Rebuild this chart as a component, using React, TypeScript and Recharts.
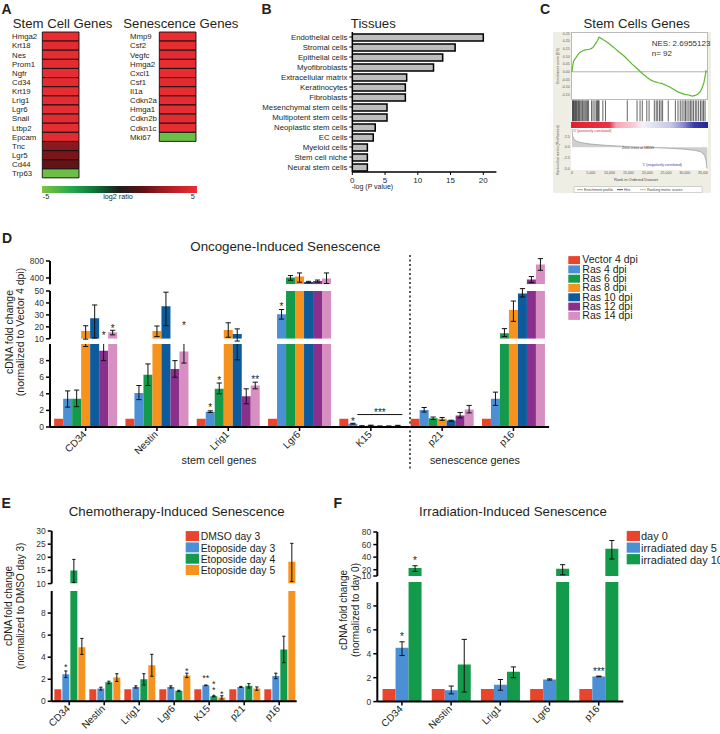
import React from 'react';
import {
  BarChart, Bar, XAxis, YAxis, ErrorBar, LabelList, Cell,
  LineChart, Line, ReferenceLine, AreaChart, Area, ScatterChart, Scatter,
} from 'recharts';

const FONT = '"Liberation Sans", Arial, Helvetica, sans-serif';
const INK = '#231f20';

// ---------------- Panel A : heat maps ----------------
const stemGenes = ['Hmga2', 'Krt18', 'Nes', 'Prom1', 'Ngfr', 'Cd34', 'Krt19', 'Lrig1', 'Lgr6', 'Snail', 'Ltbp2', 'Epcam', 'Tnc', 'Lgr5', 'Cd44', 'Trp63'];
const stemLog2 = [4.8, 4.7, 4.8, 4.7, 4.8, 4.7, 4.8, 4.7, 4.8, 4.7, 4.8, 4.7, 2.4, 2.1, 1.6, -4.6];
const senGenes = ['Mmp9', 'Csf2', 'Vegfc', 'Hmga2', 'Cxcl1', 'Csf1', 'Il1a', 'Cdkn2a', 'Hmga1', 'Cdkn2b', 'Cdkn1c', 'Mki67'];
const senLog2 = [4.8, 4.8, 4.7, 4.8, 4.8, 4.7, 4.8, 4.7, 4.8, 4.7, 4.8, -4.6];
const log2Stops: [number, string][] = [[-5, '#80c342'], [-3, '#1ea84c'], [-1.5, '#0e6e36'], [0, '#1d1d1b'], [1.5, '#5e1114'], [3, '#a81c22'], [5, '#ee2e34']];

// ---------------- Panel B : tissues ----------------
const tissueNames = ['Endothelial cells', 'Stromal cells', 'Epithelial cells', 'Myofibroblasts', 'Extracellular matrix', 'Keratinocytes', 'Fibroblasts', 'Mesenchymal stem cells', 'Multipotent stem cells', 'Neoplastic stem cells', 'EC cells', 'Myeloid cells', 'Stem cell niche', 'Neural stem cells'];
const tissueScores = [20, 15.7, 13.8, 12.4, 8.3, 8.1, 8.1, 5.3, 5.3, 3.5, 3.2, 2.3, 2.3, 2.3];
const tissueTicks = [0, 5, 10, 15, 20];

// ---------------- Panel C : GSEA ----------------
const esRank = [0, 150, 400, 800, 1100, 1500, 2000, 2600, 3300, 4000, 4600, 5100, 5600, 6000, 6400, 6800, 7200, 7600, 8200, 9000, 9800, 10700, 11500, 12400, 13300, 14200, 15000, 16000, 17000, 18000, 19000, 20000, 21000, 22000, 23000, 24000, 25000, 26000, 27000, 28000, 29000, 30000, 31000, 32000, 32800, 33500, 34200, 34700, 35100, 35400, 35650, 35800];
const esScore = [0, 0.03, 0.07, 0.085, 0.095, 0.11, 0.125, 0.135, 0.142, 0.145, 0.148, 0.152, 0.16, 0.175, 0.19, 0.205, 0.228, 0.222, 0.212, 0.2, 0.185, 0.168, 0.152, 0.132, 0.115, 0.095, 0.075, 0.05, 0.028, 0.005, -0.018, -0.038, -0.055, -0.065, -0.072, -0.078, -0.088, -0.1, -0.115, -0.13, -0.14, -0.148, -0.152, -0.16, -0.155, -0.145, -0.128, -0.1, -0.07, -0.03, 0.005, 0.0];
const esTicks = [-0.15, -0.1, -0.05, 0, 0.05, 0.1, 0.15, 0.2, 0.25];
const hitRanks = [100, 250, 400, 600, 800, 950, 1200, 1400, 1700, 1900, 2100, 2400, 2700, 2900, 3200, 3500, 3800, 4100, 4400, 5200, 5600, 6100, 6500, 6800, 7000, 7200, 8200, 8900, 14700, 17300, 18100, 18700, 19900, 20500, 21900, 22400, 22800, 23300, 23700, 24100, 25600, 27500, 28200, 28800, 29300, 29800, 30200, 30600, 31100, 31500, 31900, 32300, 32800, 33200, 33700, 34200, 34600, 35000, 35400];
const rmRank = [0, 150, 500, 1000, 2000, 3500, 5000, 8000, 12000, 16000, 18559, 22000, 26000, 30000, 33000, 34500, 35300, 35700, 35900, 36000];
const rmScore = [4.3, 2.6, 1.9, 1.5, 1.15, 0.9, 0.72, 0.5, 0.28, 0.1, 0, -0.12, -0.28, -0.5, -0.8, -1.2, -2.0, -3.3, -5.0, -5.0];
const rmTicks = [-5, -2.5, 0, 2.5];
const rankTicks = [0, 5000, 10000, 15000, 20000, 25000, 30000, 35000];

// ---------------- Panel D : oncogene-induced ----------------
const dCats = ['CD34', 'Nestin', 'Lrig1', 'Lgr6', 'K15', 'p21', 'p16'];
const dNames = ['Vector 4 dpi', 'Ras 4 dpi', 'Ras 6 dpi', 'Ras 8 dpi', 'Ras 10 dpi', 'Ras 12 dpi', 'Ras 14 dpi'];
const dColors = ['#e8452c', '#4b8fd5', '#139a4a', '#f6921e', '#0d5a9c', '#8b2f8c', '#d78ec0'];
const dVector = [1, 1, 1, 1, 1, 1, 1];
const dVectorErr = [null, null, null, null, null, null, null];
const dRas4 = [3.4, 4.1, 1.85, 30.6, 0.4, 2.05, 3.4];
const dRas4Err = [[2.4, 4.35], [3.3, 5.0], [1.75, 1.95], [26.5, 34.5], [0.35, 0.45], [1.8, 2.35], [2.6, 4.2]];
const dRas6 = [3.4, 6.3, 4.6, 409, 0.12, 1.05, 14.7];
const dRas6Err = [[2.45, 4.45], [5.0, 7.6], [4.0, 5.3], [346, 456], [0.1, 0.15], [0.9, 1.2], [11.9, 18.5]];
const dRas8 = [16.6, 16.6, 17.4, 433, 0.18, 1.0, 34];
const dRas8Err = [[9.7, 20.9], [11.9, 20.7], [11.3, 23.4], [300, 518], [0.15, 0.22], [0.8, 1.15], [24.6, 41.6]];
const dRas10 = [27.1, 37.3, 14.1, 306, 0.1, 0.77, 48];
const dRas10Err = [[10.6, 38.3], [21, 49], [8.1, 18.3], [290, 320], [0.08, 0.12], [0.7, 0.82], [45, 52]];
const dRas12 = [9.2, 7.0, 3.7, 329, 0.1, 1.4, 362];
const dRas12Err = [[8.0, 10.4], [6.0, 8.0], [2.8, 4.6], [300, 350], [0.08, 0.12], [1.1, 1.75], [292, 433]];
const dRas14 = [15.5, 9.1, 5.0, 386, 0.15, 2.1, 715];
const dRas14Err = [[13.3, 17.1], [7.7, 10.6], [4.6, 5.4], [268, 518], [0.12, 0.2], [1.7, 2.6], [580, 856]];
const dStars = [
  { cat: 0, s: 5, ref: 6, text: '*', pos: 14.4 },
  { cat: 0, s: 6, text: '*', pos: 20.7 },
  { cat: 1, s: 6, ref: 4, text: '*', pos: 23.2 },
  { cat: 2, s: 1, text: '*', pos: 2.6 },
  { cat: 2, s: 2, text: '*', pos: 5.85 },
  { cat: 2, s: 6, text: '**', pos: 6.0 },
  { cat: 3, s: 1, text: '*', pos: 38.9 },
  { cat: 4, s: 1, text: '*', pos: 0.93 },
  { cat: 4, s: 4, ref: 1, text: '***', pos: 2.0 },
  { cat: 4, s: 2, ref: 1, text: '', pos: 1.5, line: 5 },
];

// ---------------- Panel E : chemotherapy ----------------
const eCats = ['CD34', 'Nestin', 'Lrig1', 'Lgr6', 'K15', 'p21', 'p16'];
const eNames = ['DMSO day 3', 'Etoposide day 3', 'Etoposide day 4', 'Etoposide day 5'];
const eColors = ['#e8452c', '#4b8fd5', '#139a4a', '#f6921e'];
const eDmso = [1.1, 1.1, 1.1, 1.1, 1.1, 1.1, 1.1];
const eDmsoErr = [null, null, null, null, null, null, null];
const eEto3 = [2.45, 1.15, 1.3, 1.3, 1.45, 1.3, 2.3];
const eEto3Err = [[2.15, 2.75], [1.02, 1.28], [1.2, 1.4], [1.2, 1.4], [1.42, 1.48], [1.25, 1.35], [2.05, 2.55]];
const eEto4 = [15, 1.72, 2.0, 0.95, 0.45, 1.4, 4.7];
const eEto4Err = [[10.4, 19.2], [1.6, 1.82], [1.48, 2.5], [0.9, 1.0], [0.42, 0.48], [1.2, 1.6], [3.5, 5.9]];
const eEto5 = [4.9, 2.15, 3.26, 2.35, 0.35, 1.15, 18.3];
const eEto5Err = [[4.25, 5.7], [1.8, 2.5], [2.27, 4.26], [2.15, 2.55], [0.2, 0.5], [1.0, 1.3], [10.8, 25.3]];
const eStars = [
  { cat: 0, s: 1, text: '*', pos: 3.26 },
  { cat: 3, s: 3, text: '*', pos: 2.96 },
  { cat: 4, s: 1, text: '**', pos: 2.27 },
  { cat: 4, s: 2, text: '*', pos: 1.8 },
  { cat: 4, s: 2, text: '*', pos: 1.2 },
  { cat: 4, s: 2, text: '*', pos: 0.62 },
  { cat: 4, s: 3, text: '*', pos: 0.84 },
];

// ---------------- Panel F : irradiation ----------------
const fCats = ['CD34', 'Nestin', 'Lrig1', 'Lgr6', 'p16'];
const fNames = ['day 0', 'irradiated day 5', 'irradiated day 10'];
const fColors = ['#e8452c', '#4b8fd5', '#139a4a'];
const fDay0 = [1.05, 1.05, 1.05, 1.05, 1.05];
const fDay0Err = [null, null, null, null, null];
const fIrr5 = [4.5, 0.95, 1.4, 1.85, 2.1];
const fIrr5Err = [[3.85, 5.0], [0.65, 1.3], [0.95, 1.85], [1.8, 1.9], [2.08, 2.13]];
const fIrr10 = [22.7, 3.1, 2.5, 21.5, 53.3];
const fIrr10Err = [[17.3, 26.3], [0.8, 5.2], [2.0, 2.9], [12, 28], [37, 66.5]];
const fStars = [
  { cat: 0, s: 1, text: '*', pos: 5.63 },
  { cat: 0, s: 2, text: '*', pos: 38.6 },
  { cat: 4, s: 1, text: '***', pos: 2.73 },
];

// ---------------- helpers ----------------
const hex = (h: string) => [parseInt(h.slice(1, 3), 16), parseInt(h.slice(3, 5), 16), parseInt(h.slice(5, 7), 16)];
function heatColor(v: number) {
  const st = log2Stops;
  if (v <= st[0][0]) return st[0][1];
  for (let i = 1; i < st.length; i++) {
    if (v <= st[i][0]) {
      const t = (v - st[i - 1][0]) / (st[i][0] - st[i - 1][0]);
      const a = hex(st[i - 1][1]);
      const b = hex(st[i][1]);
      const c = a.map((x, k) => Math.round(x + (b[k] - x) * t));
      return `rgb(${c[0]},${c[1]},${c[2]})`;
    }
  }
  return st[st.length - 1][1];
}

function Heat({ genes, vals, left, top, labelX, cellLeft, cellRight }: any) {
  const data = genes.map((g: string, i: number) => ({ name: g, v: 1, r: vals[i] }));
  const H = genes.length * 9.125 + 2;
  const W = cellRight - left + 2;
  return (
    <div style={{ position: 'absolute', left, top: top - 1, width: W, height: H }}>
      <BarChart layout="vertical" width={W} height={H} data={data} margin={{ top: 1, right: 2, bottom: 1, left: 0 }} barCategoryGap={0}>
        <XAxis type="number" domain={[0, 1]} hide />
        <YAxis type="category" dataKey="name" width={cellLeft - left} axisLine={false} tickLine={false} interval={0}
          tick={(p: any) => <text x={labelX - left} y={p.y} dy="0.35em" fontSize={7.8} fill={INK} fontFamily={FONT}>{p.payload.value}</text>} />
        <Bar dataKey="v" isAnimationActive={false} stroke="#111" strokeWidth={0.9}>
          {data.map((d: any, i: number) => <Cell key={i} fill={heatColor(d.r)} />)}
        </Bar>
      </BarChart>
    </div>
  );
}

const RotTick = (p: any) => {
  const ax = p.x + 1.5;
  const ay = p.y + 2;
  return (
    <text x={ax} y={ay} transform={`rotate(-45 ${ax} ${ay})`} textAnchor="end" fontSize={p.fs} fill={INK} fontFamily={FONT}>
      {p.payload.value}
    </text>
  );
};

type Seg = { domain: [number, number]; ticks: number[]; top: number; bottom: number };

function BrokenBars({ cats, names, colors, values, errs, segs, left, plotLeft, plotRight, catGap, barGap, stars, capW, starFs }: any) {
  return (
    <>
      {segs.map((seg: Seg, k: number) => {
        const isBottom = seg.domain[0] === 0;
        const base = seg.domain[0];
        // rows for this segment: a bar that ends below the segment's floor is flattened to the floor (invisible)
        const data = cats.map((c: string, i: number) => {
          const row: any = { name: c, ci: i };
          values.forEach((arr: number[], s: number) => {
            const v = arr[i];
            const e = errs[s][i];
            const below = v < base;
            row['v' + s] = below ? base : v;
            row['e' + s] = e && !below ? [v - e[0], e[1] - v] : null;
          });
          return row;
        });
        const mt = isBottom ? 0 : 7;
        const mb = isBottom ? 0 : 6;
        const xh = isBottom ? 45 : 0;
        const W = plotRight - left + 6;
        const H = seg.bottom - seg.top + mt + mb + xh;
        const starContent = (s: number) => (p: any) => {
          const idx = Number(p.value);
          const items = stars.filter((st: any) => (st.ref ?? st.s) === s && st.cat === idx && st.pos >= seg.domain[0] && st.pos <= seg.domain[1]);
          if (!items.length) return null;
          const vb = p.viewBox && p.viewBox.height != null ? p.viewBox : p;
          const x = Number(vb.x), y = Number(vb.y), w = Number(vb.width), h = Number(vb.height);
          const val = values[s][idx];
          const ppu = h / (val - base);
          const baseY = y + h;
          return (
            <g>
              {items.map((st: any, j: number) => {
                const cy = baseY - (st.pos - base) * ppu;
                const x0 = x + (st.s - s) * (w + barGap);
                if (st.line) {
                  return <line key={j} x1={x0} x2={x0 + st.line * w + (st.line - 1) * barGap} y1={cy} y2={cy} stroke="#111" strokeWidth={1} />;
                }
                return (
                  <text key={j} x={x0 + w / 2} y={cy + 0.57 * starFs} textAnchor="middle" fontSize={starFs} fill={INK} fontFamily={FONT}>{st.text}</text>
                );
              })}
            </g>
          );
        };
        return (
          <div key={k} style={{ position: 'absolute', left, top: seg.top - mt, width: W, height: H }}>
            <BarChart width={W} height={H} data={data} margin={{ top: mt, right: 6, bottom: mb, left: 0 }} barGap={barGap} barCategoryGap={catGap}>
              <XAxis dataKey="name" hide={!isBottom} interval={0} height={xh || 1}
                axisLine={{ stroke: '#000', strokeWidth: 2 }} tickLine={{ stroke: '#000', strokeWidth: 1.5 }} tickSize={4}
                tick={(p: any) => <RotTick {...p} fs={10} />} />
              <YAxis type="number" domain={seg.domain} allowDataOverflow ticks={seg.ticks} interval={0} width={plotLeft - left}
                axisLine={{ stroke: '#000', strokeWidth: 2 }} tickLine={{ stroke: '#000', strokeWidth: 1.5 }} tickSize={4}
                tick={{ fontSize: 8.5, fill: '#333', fontFamily: FONT }} />
              {names.map((n: string, s: number) => (
                <Bar key={n} dataKey={'v' + s} fill={colors[s]} isAnimationActive={false}>
                  <ErrorBar dataKey={'e' + s} width={capW} stroke="#111" strokeWidth={1} />
                  <LabelList dataKey="ci" content={starContent(s)} />
                </Bar>
              ))}
            </BarChart>
          </div>
        );
      })}
    </>
  );
}

const T = ({ x, y, s, fs = 10, a = 'start', w = 'normal', fill = INK, rot }: any) => (
  <text x={x} y={y} fontSize={fs} textAnchor={a} fontWeight={w} fill={fill} fontFamily={FONT}
    transform={rot ? `rotate(${rot} ${x} ${y})` : undefined}>{s}</text>
);

function Legend({ names, colors, sx, sw, sh, tx, y0, pitch, fs }: any) {
  return (
    <g>
      {names.map((n: string, i: number) => (
        <g key={n}>
          <rect x={sx} y={y0 + i * pitch - sh + 0.8} width={sw} height={sh} fill={colors[i]} />
          <T x={tx} y={y0 + i * pitch} s={n} fs={fs} />
        </g>
      ))}
    </g>
  );
}

const tinyY = (fmt: (v: number) => string) => (p: any) => (
  <text x={p.x - 1.2} y={p.y} dy={1.2} textAnchor="end" fontSize={3.6} fill="#555" fontFamily={FONT}>{fmt(Number(p.payload.value))}</text>
);

export default function App() {
  const tissueData = tissueNames.map((n, i) => ({ name: n, v: tissueScores[i] }));
  const esData = esRank.map((r, i) => ({ rank: r, es: esScore[i] }));
  const hitData = hitRanks.map((r) => ({ rank: r, y: 0.5 }));
  const rmData = rmRank.map((r, i) => ({ rank: r, m: rmScore[i] }));
  const rankDomain: [number, number] = [-266, 36330];

  const dSegs: Seg[] = [
    { domain: [250, 800], ticks: [400, 800], top: 260.7, bottom: 284 },
    { domain: [10, 50], ticks: [10, 20, 30, 40, 50], top: 290.7, bottom: 338.5 },
    { domain: [0, 10], ticks: [0, 2, 4, 6, 8], top: 343.7, bottom: 426.7 },
  ];
  const eSegs: Seg[] = [
    { domain: [10, 30], ticks: [10, 15, 20, 25, 30], top: 530.7, bottom: 583.3 },
    { domain: [0, 10], ticks: [0, 2, 4, 6, 8], top: 590.7, bottom: 701 },
  ];
  const fSegs: Seg[] = [
    { domain: [10, 80], ticks: [10, 20, 40, 60, 80], top: 532.3, bottom: 576.3 },
    { domain: [0, 10], ticks: [0, 2, 4, 6, 8], top: 582.1, bottom: 701.7 },
  ];

  return (
    <div style={{ position: 'absolute', left: 0, top: 0, width: 720, height: 734, background: '#fff', fontFamily: FONT, overflow: 'hidden' }}>
      {/* ---- A ---- */}
      <Heat genes={stemGenes} vals={stemLog2} left={0} top={31.7} labelX={12} cellLeft={42.3} cellRight={79} />
      <Heat genes={senGenes} vals={senLog2} left={120} top={31.7} labelX={130} cellLeft={159.3} cellRight={196} />
      <div style={{ position: 'absolute', left: 42.3, top: 185.7, width: 154.4, height: 7.6,
        background: 'linear-gradient(to right, #80c342 0%, #1ea84c 20%, #0e6e36 35%, #1d1d1b 50%, #5e1114 65%, #a81c22 80%, #ee2e34 100%)' }} />

      {/* ---- B ---- */}
      <div style={{ position: 'absolute', left: 240, top: 31.7, width: 261, height: 160 }}>
        <BarChart layout="vertical" width={261} height={160} data={tissueData} margin={{ top: 0, right: 4.6, bottom: 0, left: 0 }} barSize={7}>
          <XAxis type="number" domain={[0, 22]} ticks={tissueTicks} interval={0} height={20} allowDataOverflow
            axisLine={{ stroke: '#000', strokeWidth: 1.5 }} tickLine={{ stroke: '#000', strokeWidth: 1 }} tickSize={3}
            tick={{ fontSize: 8, fill: INK, fontFamily: FONT }} />
          <YAxis type="category" dataKey="name" width={112.3} interval={0}
            axisLine={{ stroke: '#000', strokeWidth: 1.5 }} tickLine={{ stroke: '#000', strokeWidth: 1 }} tickSize={3}
            tick={(p: any) => <text x={p.x} y={p.y} dy="0.35em" textAnchor="end" fontSize={7.8} fill={INK} fontFamily={FONT}>{p.payload.value}</text>} />
          <Bar dataKey="v" fill="#bdbdbd" stroke="#000" strokeWidth={1.5} isAnimationActive={false} />
        </BarChart>
      </div>

      {/* ---- C ---- */}
      <div style={{ position: 'absolute', left: 553, top: 31.7, width: 158, height: 161.6, background: '#efeee4' }} />
      <div style={{ position: 'absolute', left: 570.7, top: 32.3, width: 137.6, height: 67.7, background: '#fff', boxSizing: 'border-box', border: '0.5px solid #bbb' }} />
      <div style={{ position: 'absolute', left: 570.7, top: 100, width: 137.6, height: 21.7, background: '#fff' }} />
      <div style={{ position: 'absolute', left: 570.7, top: 121.7, width: 137.6, height: 6.6,
        background: 'linear-gradient(to right, #e2202f 0%, #e63346 28%, #f4a4b4 33%, #f8cdd6 46%, #f4f2f8 52%, #dcdcf0 62%, #c6c6e6 73%, #8a8ad0 82%, #3a3aa8 90%, #26269a 100%)' }} />
      <div style={{ position: 'absolute', left: 570.7, top: 128.3, width: 137.6, height: 41.7, background: '#fff' }} />
      <div style={{ position: 'absolute', left: 548.7, top: 32.3, width: 159.6, height: 67.7 }}>
        <LineChart width={159.6} height={67.7} data={esData} margin={{ top: 0, right: 0, bottom: 0, left: 0 }}>
          <XAxis type="number" dataKey="rank" domain={rankDomain} allowDataOverflow hide />
          <YAxis type="number" domain={[-0.183, 0.261]} ticks={esTicks} interval={0} width={22} axisLine={false} tickLine={false}
            tickSize={0} tickMargin={0} tick={tinyY((v) => v.toFixed(2))} />
          <ReferenceLine y={0} stroke="#9a9a9a" strokeWidth={0.8} />
          <Line type="linear" dataKey="es" stroke="#5cb82e" strokeWidth={1.2} dot={false} isAnimationActive={false} />
        </LineChart>
      </div>
      <div style={{ position: 'absolute', left: 556.7, top: 100, width: 151.6, height: 21.7 }}>
        <ScatterChart width={151.6} height={21.7} margin={{ top: 0, right: 0, bottom: 0, left: 14 }}>
          <XAxis type="number" dataKey="rank" domain={rankDomain} allowDataOverflow hide />
          <YAxis type="number" dataKey="y" domain={[0, 1]} hide />
          <Scatter data={hitData} isAnimationActive={false}
            shape={(p: any) => <line x1={p.cx} x2={p.cx} y1={p.cy - 10.5} y2={p.cy + 10.5} stroke="#222" strokeWidth={0.7} />} />
        </ScatterChart>
      </div>
      <div style={{ position: 'absolute', left: 548.7, top: 128.3, width: 159.6, height: 50 }}>
        <AreaChart width={159.6} height={50} data={rmData} margin={{ top: 0, right: 0, bottom: 0, left: 0 }}>
          <XAxis type="number" dataKey="rank" domain={rankDomain} allowDataOverflow ticks={rankTicks} interval={0} height={8.3}
            axisLine={false} tickLine={false} tickSize={0} tickMargin={0}
            tick={(p: any) => <text x={p.x} y={p.y} dy={4.6} textAnchor="middle" fontSize={3.6} fill="#555" fontFamily={FONT}>{Number(p.payload.value).toLocaleString('en-US')}</text>} />
          <YAxis type="number" domain={[-5.3, 4.5]} ticks={rmTicks} interval={0} width={22} axisLine={false} tickLine={false}
            tickSize={0} tickMargin={0} tick={tinyY((v) => v.toFixed(1))} />
          <Area type="linear" dataKey="m" baseValue={0} fill="#cfcfcf" fillOpacity={1} stroke="#8a8a8a" strokeWidth={0.6} isAnimationActive={false} />
        </AreaChart>
      </div>

      {/* ---- D ---- */}
      <BrokenBars cats={dCats} names={dNames} colors={dColors}
        values={[dVector, dRas4, dRas6, dRas8, dRas10, dRas12, dRas14]}
        errs={[dVectorErr, dRas4Err, dRas6Err, dRas8Err, dRas10Err, dRas12Err, dRas14Err]}
        segs={dSegs} left={0} plotLeft={50} plotRight={549.1} catGap={4.15} barGap={0} stars={dStars} capW={2.6} starFs={10} />

      {/* ---- E ---- */}
      <BrokenBars cats={eCats} names={eNames} colors={eColors}
        values={[eDmso, eEto3, eEto4, eEto5]} errs={[eDmsoErr, eEto3Err, eEto4Err, eEto5Err]}
        segs={eSegs} left={0} plotLeft={51.7} plotRight={296.7} catGap={2.65} barGap={1} stars={eStars} capW={1.6} starFs={9} />

      {/* ---- F ---- */}
      <BrokenBars cats={fCats} names={fNames} colors={fColors}
        values={[fDay0, fIrr5, fIrr10]} errs={[fDay0Err, fIrr5Err, fIrr10Err]}
        segs={fSegs} left={340} plotLeft={377.3} plotRight={623.3} catGap={5.25} barGap={0} stars={fStars} capW={2.6} starFs={10} />

      {/* ---- text overlay ---- */}
      <svg width={720} height={734} style={{ position: 'absolute', left: 0, top: 0, pointerEvents: 'none' }}>
        <T x={1.5} y={14} s="A" fs={14} w="bold" />
        <T x={261.5} y={14} s="B" fs={14} w="bold" />
        <T x={540} y={14} s="C" fs={14} w="bold" />
        <T x={2} y={243} s="D" fs={14} w="bold" />
        <T x={1.5} y={508.3} s="E" fs={14} w="bold" />
        <T x={333.5} y={508.3} s="F" fs={14} w="bold" />

        <T x={12.7} y={28} s="Stem Cell Genes" fs={13.2} />
        <T x={123.3} y={28} s="Senescence Genes" fs={13.2} />
        <T x={46} y={198.5} s="-5" fs={7.2} a="middle" />
        <T x={118} y={198.5} s="log2 ratio" fs={7.2} a="middle" />
        <T x={192.7} y={198.5} s="5" fs={7.2} a="middle" />

        <T x={373.3} y={28} s="Tissues" fs={13.2} a="middle" />
        <T x={351.7} y={189} s="-log (P value)" fs={7} />

        <T x={636.7} y={28} s="Stem Cells Genes" fs={13.2} a="middle" />
        <T x={651.7} y={45.5} s="NES: 2.6955123" fs={8} fill="#333" />
        <T x={651.7} y={56} s="n= 92" fs={8} fill="#333" />
        <T x={559.3} y={66} s="Enrichment score (ES)" fs={3.6} a="middle" rot={-90} fill="#555" />
        <T x={559.3} y={150} s="Ranked list metric (PreRanked)" fs={3.6} a="middle" rot={-90} fill="#555" />
        <T x={573} y={131.5} s="'0' (positively correlated)" fs={3.6} fill="#d42a3a" />
        <T x={638} y={149} s="Zero cross at 18559" fs={3.6} fill="#333" a="middle" />
        <T x={642} y={165.5} s="'1' (negatively correlated)" fs={3.6} fill="#3a3aa8" />
        <T x={636} y={180.8} s="Rank in Ordered Dataset" fs={4} a="middle" fill="#444" />
        <rect x={574} y={186.8} width={128} height={5.8} fill="#fff" stroke="#999" strokeWidth={0.4} />
        <line x1={577} x2={583} y1={189.7} y2={189.7} stroke="#5cb82e" strokeWidth={0.8} />
        <T x={584} y={191} s="Enrichment profile" fs={3.6} fill="#444" />
        <line x1={617} x2={623} y1={189.7} y2={189.7} stroke="#222" strokeWidth={0.8} />
        <T x={624} y={191} s="Hits" fs={3.6} fill="#444" />
        <line x1={640} x2={646} y1={189.7} y2={189.7} stroke="#aaa" strokeWidth={0.8} />
        <T x={647} y={191} s="Ranking metric scores" fs={3.6} fill="#444" />

        <T x={285.3} y={251.3} s="Oncogene-Induced Senescence" fs={13.3} a="middle" />
        <T x={12.8} y={332} s="cDNA fold change" fs={10.5} a="middle" rot={-90} />
        <T x={24.4} y={332} s="(normalized to Vector 4 dpi)" fs={10.5} a="middle" rot={-90} />
        <T x={219} y={464} s="stem cell genes" fs={10.8} a="middle" />
        <T x={475} y={464} s="senescence genes" fs={10.8} a="middle" />
        <line x1={410} x2={410} y1={255} y2={470} stroke="#222" strokeWidth={1.5} strokeDasharray="2 2.5" />
        <Legend names={dNames} colors={dColors} sx={568.3} sw={11.7} sh={8} tx={582.3} y0={263.3} pitch={9.3} fs={10.5} />

        <T x={176.7} y={515.5} s="Chemotherapy-Induced Senescence" fs={13.3} a="middle" />
        <T x={11.9} y={606} s="cDNA fold change" fs={10} a="middle" rot={-90} />
        <T x={23.6} y={606} s="(normalized to DMSO day 3)" fs={10} a="middle" rot={-90} />
        <Legend names={eNames} colors={eColors} sx={185.7} sw={13.3} sh={10} tx={200.7} y0={540.3} pitch={11.3} fs={10.4} />

        <T x={513} y={516} s="Irradiation-Induced Senescence" fs={13.3} a="middle" />
        <T x={346.9} y={610} s="cDNA fold change" fs={10} a="middle" rot={-90} />
        <T x={358.6} y={610} s="(normalized to day 0)" fs={10} a="middle" rot={-90} />
        <Legend names={fNames} colors={fColors} sx={626.7} sw={13.3} sh={10.2} tx={641} y0={540.3} pitch={11.6} fs={11} />
      </svg>
    </div>
  );
}
